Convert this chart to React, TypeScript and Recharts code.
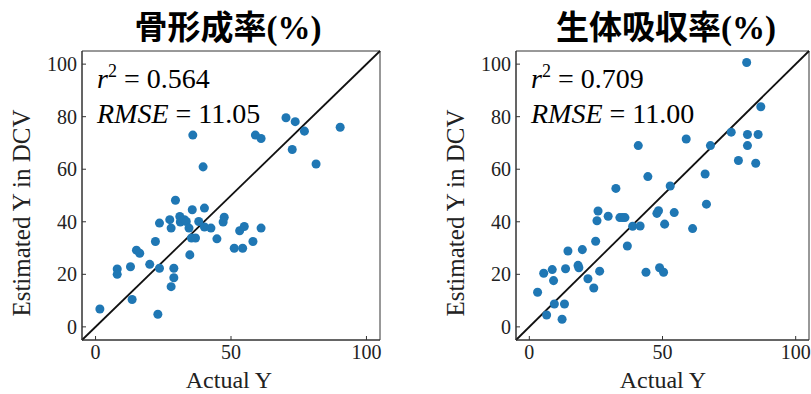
import React from "react"
import { ScatterChart, Scatter, XAxis, YAxis, ZAxis, ReferenceLine, ReferenceArea } from "recharts"

// 骨形成率 (%) — actual vs estimated
const boneActual = [
  1.6, 13.5, 23, 8, 8, 12.9, 15.1, 16.3, 20, 23.6, 22.1, 23.6, 27.9, 28.9, 28.9, 27.4, 27.9,
  29.5, 31.1, 31.3, 32.8, 33.5, 34.5, 34.8, 35.4, 36.9, 35.7, 35.9, 38.1, 39.7, 40.2, 40.2,
  42.6, 44.8, 47.1, 47.5, 51.2, 54.3, 53.2, 54.9, 58.1, 61.1, 59, 61.1, 70.3, 73.7, 72.6,
  77.1, 81.4, 90.3,
]
const boneEstimated = [
  6.8, 10.4, 4.8, 22, 20, 22.9, 29.2, 28, 23.8, 22.3, 32.5, 39.5, 15.3, 18.7, 22.3, 40.8, 37.6,
  48.2, 42, 39.9, 40.8, 40.1, 37.6, 27.4, 33.8, 33.8, 44.6, 73, 40.1, 60.9, 45.2, 38, 37.6,
  33.5, 39.9, 41.7, 29.9, 29.9, 36.6, 38.2, 32.5, 37.6, 73, 71.7, 79.6, 78.1, 67.5, 74.5, 62,
  76,
]

// 生体吸収率 (%) — actual vs estimated
const resorbActual = [
  3.1, 5.4, 6.5, 8.6, 9.1, 9.4, 12.3, 13.2, 13.6, 14.5, 18.3, 18.6, 19.9, 22, 24.2, 24.9, 25.4,
  25.8, 26.4, 29.6, 32.5, 34, 35, 35.9, 36.8, 38.8, 41.6, 40.9, 43.8, 44.5, 47.9, 48.5, 48.9,
  50.4, 50.8, 52.9, 54.4, 58.9, 61.3, 66, 66.5, 68, 75.8, 78.5, 81.6, 81.9, 81.9, 85, 85.9, 86.9,
]
const resorbEstimated = [
  13.2, 20.4, 4.5, 21.8, 17.6, 8.7, 2.9, 8.7, 22.1, 28.9, 23.4, 22.5, 29.4, 18.3, 14.8, 32.6,
  40.4, 44.1, 21.2, 42.1, 52.7, 41.6, 41.6, 41.6, 30.8, 38.3, 38.4, 69, 20.8, 57.2, 43.2, 44.2,
  22.5, 20.8, 39.1, 53.6, 43.5, 71.5, 37.4, 58.2, 46.7, 69, 74.1, 63.3, 100.6, 73.2, 69, 62.3,
  73.2, 83.8,
]

const xTicks = [0, 50, 100]
const yTicks = [0, 20, 40, 60, 80, 100]

const SERIF = "'Liberation Serif', 'DejaVu Serif', serif"
const CJK = "'Noto Sans CJK JP', 'Noto Sans CJK SC', sans-serif"
const DOT = "#1f77b4"
const FRAME = "#333"

const zip = (xs: number[], ys: number[]) => xs.map((x, i) => ({ x, y: ys[i] }))

function Panel({ data, left, plotLeft }: { data: { x: number; y: number }[]; left: number; plotLeft: number }) {
  const tick = { fontFamily: SERIF, fontSize: 20, fill: "#222" }
  return (
    <div style={{ position: "absolute", left, top: 0 }}>
      <ScatterChart width={391} height={394} margin={{ top: 51, right: 2, bottom: 0, left: 0 }}>
        <XAxis
          type="number"
          dataKey="x"
          domain={[-5, 105]}
          ticks={xTicks}
          height={54}
          tick={tick}
          tickSize={-4}
          tickMargin={9}
          stroke={FRAME}
          allowDataOverflow
        />
        <YAxis
          type="number"
          dataKey="y"
          domain={[-5, 105]}
          ticks={yTicks}
          width={plotLeft}
          tick={tick}
          tickSize={-4}
          tickMargin={9}
          stroke={FRAME}
          allowDataOverflow
        />
        <ZAxis range={[95, 95]} />
        <ReferenceArea x1={-5} x2={105} y1={-5} y2={105} fill="none" stroke={FRAME} strokeWidth={1} />
        <Scatter data={data} fill={DOT} isAnimationActive={false} />
        <ReferenceLine
          segment={[{ x: -5, y: -5 }, { x: 105, y: 105 }]}
          stroke="#111"
          strokeWidth={1.8}
        />
      </ScatterChart>
    </div>
  )
}

function Labels({ dx, title, titleX, r2, rmse, plotCenter }: { dx: number; title: string; titleX: number; r2: string; rmse: string; plotCenter: number }) {
  return (
    <g>
      <text x={titleX} y={39} textAnchor="middle" fontWeight="bold" fontSize={33} fill="#000">
        <tspan fontFamily={CJK}>{title}</tspan>
        <tspan fontFamily={SERIF}>(%)</tspan>
      </text>
      <text x={97 + dx} y={88} fontFamily={SERIF} fontSize={28} fill="#000">
        <tspan fontStyle="italic">r</tspan>
        <tspan dy={-11} fontSize={18}>2</tspan>
        <tspan dy={11}> = {r2}</tspan>
      </text>
      <text x={97 + dx} y={123} fontFamily={SERIF} fontSize={28} fill="#000">
        <tspan fontStyle="italic">RMSE</tspan>
        <tspan> = {rmse}</tspan>
      </text>
      <text
        x={0}
        y={0}
        transform={`translate(${30 + dx}, 213) rotate(-90)`}
        textAnchor="middle"
        fontFamily={SERIF}
        fontSize={25}
        fill="#222"
      >
        Estimated Y in DCV
      </text>
      <text x={plotCenter} y={388} textAnchor="middle" fontFamily={SERIF} fontSize={24} fill="#222">
        Actual Y
      </text>
    </g>
  )
}

export default function App() {
  return (
    <div style={{ position: "absolute", left: 0, top: 0, width: 811, height: 394, background: "#fff" }}>
      <Panel data={zip(boneActual, boneEstimated)} left={-9} plotLeft={91} />
      <Panel data={zip(resorbActual, resorbEstimated)} left={420} plotLeft={96} />
      <svg width={811} height={394} style={{ position: "absolute", left: 0, top: 0, pointerEvents: "none" }}>
        <Labels dx={0} title="骨形成率" titleX={228} r2="0.564" rmse="11.05" plotCenter={229} />
        <Labels dx={434} title="生体吸収率" titleX={666} r2="0.709" rmse="11.00" plotCenter={663} />
      </svg>
    </div>
  )
}
